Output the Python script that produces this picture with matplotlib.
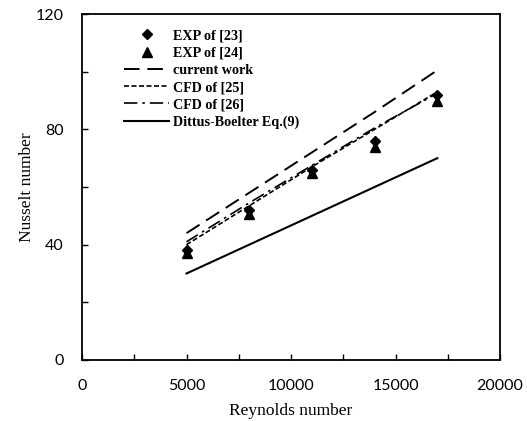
import matplotlib
matplotlib.use("Agg")
import matplotlib.pyplot as plt
from matplotlib.ticker import MultipleLocator

re_exp = [5000, 8000, 11000, 14000, 17000]
nu_exp23 = [38, 52, 66, 76, 92]
nu_exp24 = [37, 50.5, 65, 74, 90]

re_line = [5000, 8000, 11000, 14000, 17000]
nu_current = [44, 58, 72, 86, 100.5]
nu_cfd25 = [40, 53.5, 67, 80, 93]
nu_cfd26 = [41, 54.5, 67.5, 80.5, 92.5]
nu_db = [30, 40, 50, 60, 70]

fig = plt.figure(figsize=(5.27, 4.21), dpi=100)
ax = fig.add_axes([0.1556, 0.1449, 0.7932, 0.8218])

ax.plot(re_exp, nu_exp23, linestyle='none', marker='D', color='black', markersize=5, label='EXP of [23]')
ax.plot(re_exp, nu_exp24, linestyle='none', marker='^', color='black', markersize=7, label='EXP of [24]')
ax.plot(re_line, nu_current, color='black', lw=1.4, dashes=(8, 4), label='current work')
ax.plot(re_line, nu_cfd25, color='black', lw=1.2, dashes=(3, 1.5), label='CFD of [25]')
ax.plot(re_line, nu_cfd26, color='black', lw=1.2, dashes=(8, 3, 1.5, 3), label='CFD of [26]')
ax.plot(re_line, nu_db, color='black', lw=1.5, label='Dittus-Boelter Eq.(9)')

ax.set_xlim(0, 20000)
ax.set_ylim(0, 120)
ax.xaxis.set_major_locator(MultipleLocator(5000))
ax.xaxis.set_minor_locator(MultipleLocator(2500))
ax.yaxis.set_major_locator(MultipleLocator(40))
ax.yaxis.set_minor_locator(MultipleLocator(20))
ax.tick_params(which='both', direction='in', length=4, width=1, labelsize=11.5)
ax.tick_params(axis='x', pad=14)
ax.tick_params(axis='y', pad=13)
for lab in ax.get_xticklabels() + ax.get_yticklabels():
    lab.set_family('Lato')
for s in ax.spines.values():
    s.set_linewidth(1.3)

ax.set_xlabel('Reynolds number', family='Liberation Serif', fontsize=12.5, labelpad=7)
ax.set_ylabel('Nusselt number', family='Liberation Serif', fontsize=12.5, labelpad=1)

leg = ax.legend(loc='upper left', bbox_to_anchor=(0.087, 0.972), frameon=False,
                prop={'family': 'Liberation Serif', 'weight': 'bold', 'size': 10.2},
                handlelength=3.2, handletextpad=0.25, labelspacing=0.3, borderaxespad=0)

fig.savefig('out.png', dpi=100)
